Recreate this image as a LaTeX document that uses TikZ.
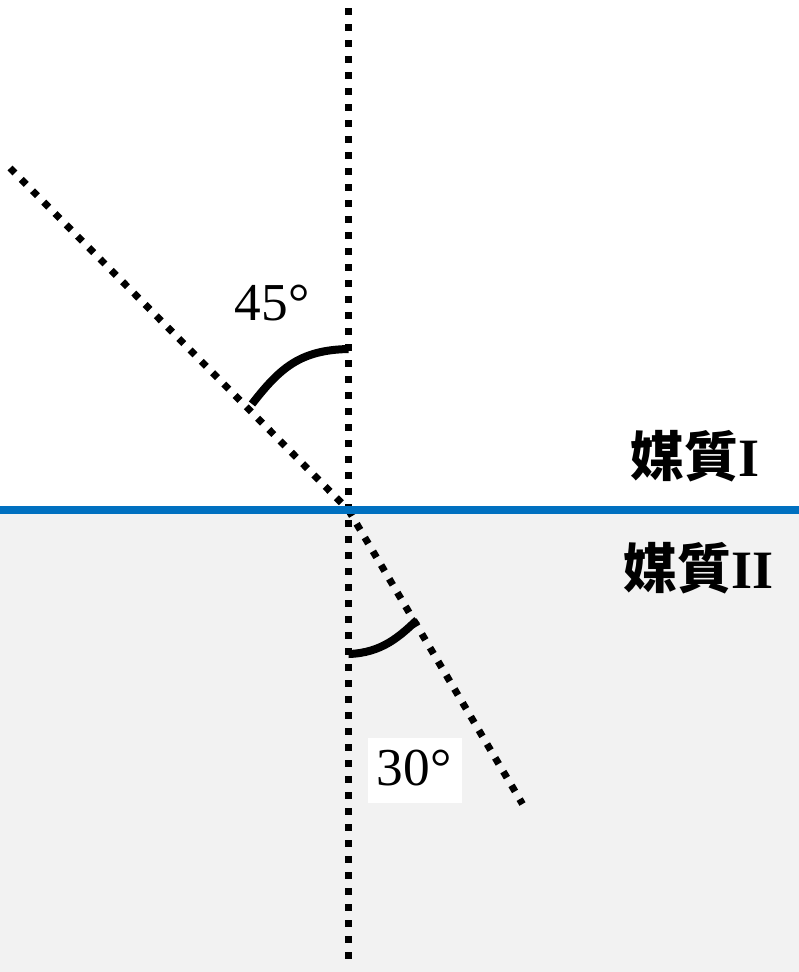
\documentclass[tikz,border=0pt]{standalone}
\usepackage{fontspec}
\setmainfont{Liberation Serif}
\newfontfamily\cjkb{Noto Sans CJK TC Bold}
\definecolor{bluel}{HTML}{0070C0}
\definecolor{grayf}{HTML}{F2F2F2}
\begin{document}
\begin{tikzpicture}[x=0.75pt,y=-0.75pt,
  ray/.style={line width=5.25pt,dash pattern=on 5.25pt off 6.75pt},
  arcl/.style={line width=6pt},
  lbl/.style={font=\fontsize{40}{44}\selectfont,inner sep=0pt},
  med/.style={font=\fontsize{40.5}{44}\selectfont\bfseries,inner sep=0pt}]
\useasboundingbox (0,0) rectangle (799,972);
\fill[grayf] (0,510) rectangle (799,972);
\coordinate (O) at (348.5,510);
\coordinate (T) at (348.5,8);
\coordinate (B) at (348.5,962);
\coordinate (I) at (10,168);
\coordinate (R) at (522.5,804);
\draw[ray] (T) -- (B);
\draw[ray] (I) -- (O);
\draw[ray] (O) -- (R);
\draw[bluel,line width=6pt] (0,510) -- (799,510);
\coordinate (a1) at (348.5,349);
\coordinate (a2) at (252,404);
\draw[arcl] (a1) .. controls (300,350) and (280,368) .. (a2);
\coordinate (b1) at (348.5,654);
\coordinate (b2) at (417,620);
\draw[arcl] (b1) .. controls (382,653) and (400,636) .. (b2);
\node[lbl] (t45) at (272,303) {45°};
\node[fill=white,minimum width=70.5pt,minimum height=48.75pt,inner sep=0pt] (box30) at (415,770) {};
\node[lbl] (t30) at (414,768) {30°};
\node[med] (m1) at (695,456) {{\cjkb 媒質}I};
\node[med] (m2) at (699,568) {{\cjkb 媒質}II};
\end{tikzpicture}
\end{document}
